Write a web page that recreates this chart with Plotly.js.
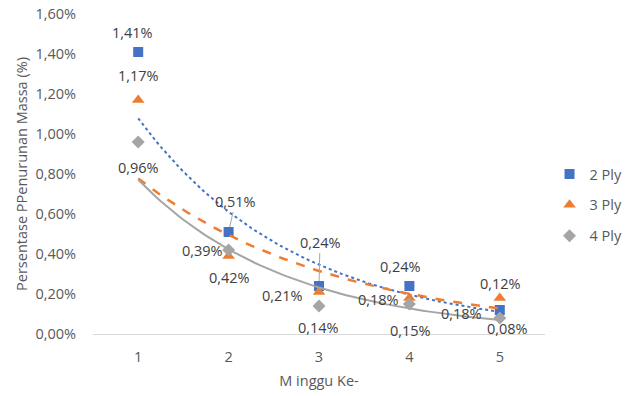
<!DOCTYPE html>
<html>
<head>
<meta charset="utf-8">
<script src="https://cdn.plot.ly/plotly-3.0.1.min.js"></script>
<style>html,body{margin:0;padding:0;background:#fff;}#chart{width:628px;height:396px;}</style>
</head>
<body>
<div id="chart"></div>
<script>
// ---- data (percent) ----
var weeks = [1, 2, 3, 4, 5];
var ply2 = [1.41, 0.51, 0.24, 0.24, 0.12];
var ply3 = [1.17, 0.39, 0.21, 0.18, 0.18];
var ply4 = [0.96, 0.42, 0.14, 0.15, 0.08];
var seriesNames = ['2 Ply', '3 Ply', '4 Ply'];
var yTickVals = [0, 0.2, 0.4, 0.6, 0.8, 1.0, 1.2, 1.4, 1.6];

// ---- styles ----
var colors = ['#4472C4', '#ED7D31', '#A5A5A5'];
var symbols = ['square', 'triangle-up', 'diamond'];
var sizes = [10, 11, 10];
var trendDash = ['dot', 'dash', 'solid'];
var trendWidth = [2, 2.5, 2];
// label offsets in px (dx, dy screen), per series per point; leader = draw leader line
var labelOffsets = [
  [[-6,-20],[7,-31],[1,-44],[-9,-20],[1,-27]],
  [[0,-25],[-26,-6],[-37,3],[-31,1],[-38,15]],
  [[0,25],[1,27],[-1,21],[1,26],[8,10]]
];
var leaders = [[false,true,true,false,false],[false,false,false,false,false],[false,false,false,false,false]];

function expFit(xs, ys) {
  var n = xs.length, sx = 0, sy = 0, sxx = 0, sxy = 0;
  for (var i = 0; i < n; i++) {
    var ly = Math.log(ys[i]);
    sx += xs[i]; sy += ly; sxx += xs[i]*xs[i]; sxy += xs[i]*ly;
  }
  var b = (n*sxy - sx*sy) / (n*sxx - sx*sx);
  var a = (sy - b*sx) / n;
  return function(x){ return Math.exp(a + b*x); };
}
function fmt(v){ return v.toFixed(2).replace('.', ',') + '%'; }

var allSeries = [ply2, ply3, ply4];
var traces = [];
var annotations = [];
var font = "'Open Sans', 'Noto Sans', sans-serif";
var fs = 14.5;

allSeries.forEach(function(vals, s) {
  var f = expFit(weeks, vals);
  var tx = [], ty = [];
  for (var x = weeks[0]; x <= weeks[weeks.length-1] + 1e-9; x += 0.05) { tx.push(x); ty.push(f(x)); }
  traces.push({
    x: weeks, y: vals, type: 'scatter', mode: 'markers', name: seriesNames[s],
    legendgroup: 'g' + s,
    marker: {color: colors[s], symbol: symbols[s], size: sizes[s]},
    hoverinfo: 'skip'
  });
  traces.push({
    x: tx, y: ty, type: 'scatter', mode: 'lines', showlegend: false,
    line: {color: colors[s], dash: trendDash[s], width: trendWidth[s]},
    hoverinfo: 'skip'
  });
  vals.forEach(function(v, i) {
    var o = labelOffsets[s][i];
    if (leaders[s][i]) {
      annotations.push({x: weeks[i], y: v, text: fmt(v), showarrow: true, arrowhead: 0,
        arrowwidth: 1, arrowcolor: '#A6A6A6', ax: o[0], ay: o[1], standoff: 5,
        font: {family: font, size: fs, color: '#404040'}});
    } else {
      annotations.push({x: weeks[i], y: v, text: fmt(v), showarrow: false,
        xshift: o[0], yshift: -o[1],
        font: {family: font, size: fs, color: '#404040'}});
    }
  });
});

var layout = {
  width: 628, height: 396,
  margin: {l: 93, r: 83, t: 14, b: 62, autoexpand: false},
  paper_bgcolor: '#fff', plot_bgcolor: '#fff',
  separators: ',.',
  font: {family: font, size: fs, color: '#595959'},
  showlegend: true,
  legend: {x: 1.01, xanchor: 'left', y: 0.403, yanchor: 'middle', tracegroupgap: 9,
    font: {family: font, size: fs, color: '#595959'}},
  xaxis: {
    range: [0.5, 5.5], tickvals: weeks, ticktext: weeks.map(String),
    showgrid: false, zeroline: false, showline: true, linecolor: '#D9D9D9', linewidth: 1,
    ticks: 'outside', ticklen: 10, tickcolor: 'rgba(0,0,0,0)',
    title: {text: 'M inggu Ke-', standoff: 10, font: {family: font, size: fs, color: '#595959'}},
    fixedrange: true
  },
  yaxis: {
    range: [0, 1.6], tickvals: yTickVals, ticktext: yTickVals.map(fmt),
    showgrid: false, zeroline: false, showline: false,
    ticks: 'outside', ticklen: 13, tickcolor: 'rgba(0,0,0,0)',
    title: {text: 'Persentase PPenurunan Massa (%)', standoff: 4, font: {family: font, size: fs, color: '#595959'}},
    fixedrange: true
  },
  annotations: annotations
};

Plotly.newPlot('chart', traces, layout, {displayModeBar: false, staticPlot: true});
</script>
</body>
</html>
